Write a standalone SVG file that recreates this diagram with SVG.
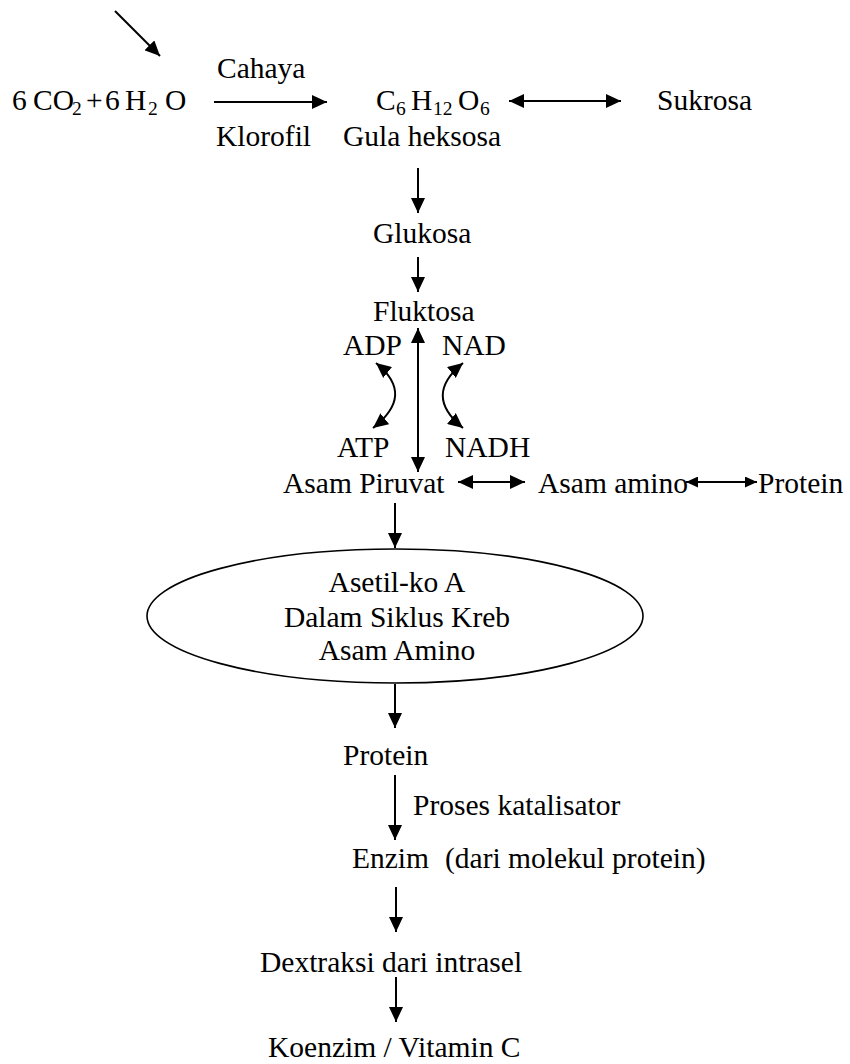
<svg xmlns="http://www.w3.org/2000/svg" width="850" height="1064" viewBox="0 0 850 1064">
<defs>
<style>
text{font-family:"Liberation Serif","Times New Roman",serif;font-size:29.5px;fill:#000}
.sub{font-size:19.5px}
.ln{stroke:#000;stroke-width:2;fill:none}
</style>
<marker id="ah" markerUnits="userSpaceOnUse" markerWidth="15" markerHeight="14" viewBox="0 0 15 14" refX="15" refY="7" orient="auto-start-reverse">
<path d="M0,0 L15,7 L0,14 Z" fill="#000"/>
</marker>
<marker id="ahs" markerUnits="userSpaceOnUse" markerWidth="12" markerHeight="11" viewBox="0 0 12 11" refX="12" refY="5.5" orient="auto-start-reverse">
<path d="M0,0 L12,5.5 L0,11 Z" fill="#000"/>
</marker>
</defs>
<rect width="850" height="1064" fill="#fff"/>
<g id="connectors">
<line class="ln" x1="115" y1="11" x2="160" y2="56" marker-end="url(#ah)"/>
<line class="ln" x1="214" y1="102" x2="327" y2="102" marker-end="url(#ah)"/>
<line class="ln" x1="509" y1="101" x2="621" y2="101" marker-start="url(#ah)" marker-end="url(#ah)"/>
<line class="ln" x1="418" y1="168" x2="418" y2="213" marker-end="url(#ah)"/>
<line class="ln" x1="418" y1="257" x2="418" y2="292" marker-end="url(#ah)"/>
<line class="ln" x1="418" y1="328" x2="418" y2="472" marker-start="url(#ah)" marker-end="url(#ah)"/>
<path class="ln" d="M376,363 C403,385 401,406 373,428" marker-start="url(#ah)" marker-end="url(#ah)"/>
<path class="ln" d="M463,363 C436,385 436,406 463,428" marker-start="url(#ah)" marker-end="url(#ah)"/>
<line class="ln" x1="458" y1="482" x2="525" y2="482" marker-start="url(#ah)" marker-end="url(#ah)"/>
<line class="ln" x1="686" y1="482" x2="757" y2="482" marker-start="url(#ahs)" marker-end="url(#ahs)"/>
<line class="ln" x1="395" y1="503" x2="395" y2="548" marker-end="url(#ah)"/>
<line class="ln" x1="395" y1="684" x2="395" y2="728" marker-end="url(#ah)"/>
<line class="ln" x1="395" y1="775" x2="395" y2="840" marker-end="url(#ah)"/>
<line class="ln" x1="396" y1="887" x2="396" y2="932" marker-end="url(#ah)"/>
<line class="ln" x1="396" y1="977" x2="396" y2="1022" marker-end="url(#ah)"/>
</g>
<g id="reactants">
<text y="110"><tspan x="12">6</tspan><tspan x="33">CO</tspan><tspan class="sub" x="72" dy="5">2</tspan><tspan x="86" dy="-5">+</tspan><tspan x="105">6</tspan><tspan x="125">H</tspan><tspan class="sub" x="148" dy="5">2</tspan><tspan x="165" dy="-5">O</tspan></text>
</g>
<g id="cahaya"><text x="217" y="78">Cahaya</text></g>
<g id="klorofil"><text x="216" y="146">Klorofil</text></g>
<g id="glucose-formula">
<text y="110"><tspan x="376">C</tspan><tspan class="sub" x="396" dy="5">6</tspan><tspan x="411" dy="-5">H</tspan><tspan class="sub" x="433" dy="5">12</tspan><tspan x="458" dy="-5">O</tspan><tspan class="sub" x="480" dy="5">6</tspan></text>
<text x="343" y="146">Gula heksosa</text>
</g>
<g id="sukrosa"><text x="657" y="110">Sukrosa</text></g>
<g id="glukosa"><text x="373" y="243">Glukosa</text></g>
<g id="fluktosa"><text x="373" y="321">Fluktosa</text></g>
<g id="adp"><text x="343" y="355">ADP</text></g>
<g id="nad"><text x="442" y="355">NAD</text></g>
<g id="atp"><text x="337" y="457">ATP</text></g>
<g id="nadh"><text x="445" y="457">NADH</text></g>
<g id="asam-piruvat"><text x="283" y="493">Asam Piruvat</text></g>
<g id="asam-amino"><text x="538" y="493">Asam amino</text></g>
<g id="protein-right"><text x="758" y="493">Protein</text></g>
<g id="krebs">
<ellipse cx="395" cy="616" rx="248" ry="67" fill="none" stroke="#000" stroke-width="1.6"/>
<text x="397" y="592" text-anchor="middle">Asetil-ko A</text>
<text x="397" y="627" text-anchor="middle">Dalam Siklus Kreb</text>
<text x="397" y="660" text-anchor="middle">Asam Amino</text>
</g>
<g id="protein"><text x="343" y="765">Protein</text></g>
<g id="proses"><text x="413" y="815">Proses katalisator</text></g>
<g id="enzim"><text x="352" y="868">Enzim</text><text x="445" y="868">(dari molekul protein)</text></g>
<g id="dextraksi"><text x="260" y="972">Dextraksi dari intrasel</text></g>
<g id="koenzim"><text x="268" y="1057">Koenzim / Vitamin C</text></g>
</svg>
